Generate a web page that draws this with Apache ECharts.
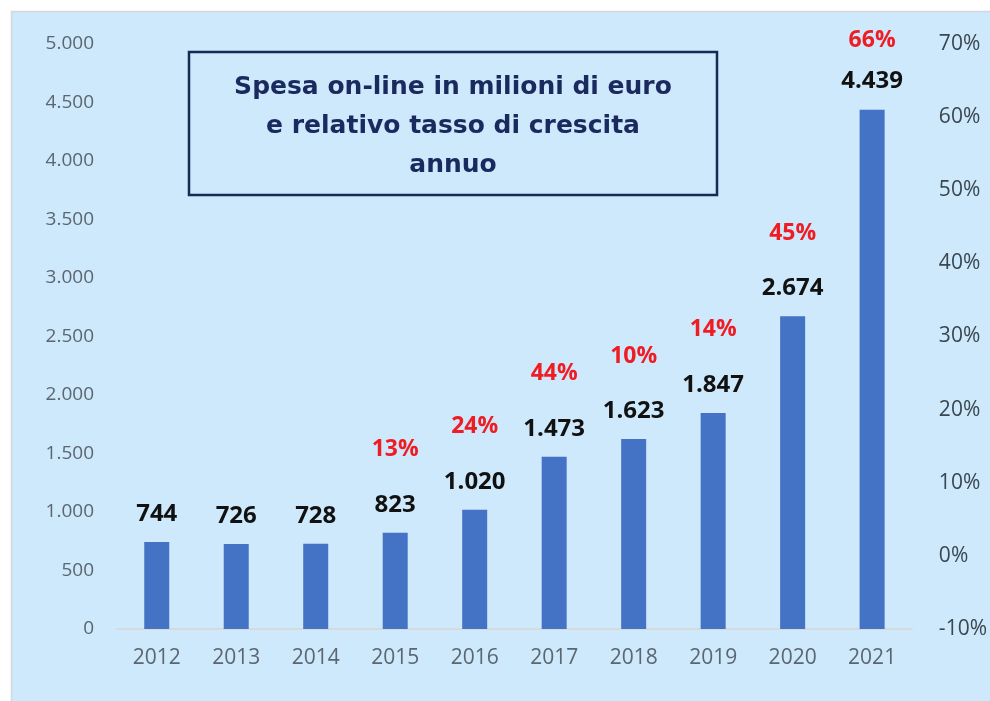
<!DOCTYPE html>
<html>
<head>
<meta charset="utf-8">
<title>Spesa on-line</title>
<script src="https://cdn.jsdelivr.net/npm/echarts@6/dist/echarts.min.js"></script>
<style>
  html, body { margin: 0; padding: 0; background: #ffffff; }
  #chart { width: 990px; height: 701px; }
</style>
</head>
<body>
<div id="chart"></div>
<script>
// Online spending (million euro) and yearly growth rate
const years = ['2012', '2013', '2014', '2015', '2016', '2017', '2018', '2019', '2020', '2021'];
const spend = [744, 726, 728, 823, 1020, 1473, 1623, 1847, 2674, 4439];
const growth = [null, null, null, 13, 24, 44, 10, 14, 45, 66];
const leftTicks = { min: 0, max: 5000, interval: 500 };
const rightTicks = { min: -10, max: 70, interval: 10 };

const FONT = '"Open Sans", "Noto Sans", sans-serif';
const BG = '#cde9fb';

// Italian thousands separator
function fmt(v) {
  return String(v).replace(/\B(?=(\d{3})+(?!\d))/g, '.');
}

const chart = echarts.init(document.getElementById('chart'), null, { renderer: 'canvas' });

const lastIdx = spend.length - 1;
const barData = spend.map(function (v, i) {
  if (i === lastIdx) {
    // tighter spacing between the two labels of the tallest bar
    return { value: v, label: { rich: { g: { lineHeight: 58 } } } };
  }
  return v;
});

chart.setOption({
  backgroundColor: '#ffffff',
  animation: false,
  graphic: [
    {
      type: 'rect',
      z: -10,
      silent: true,
      shape: { x: 11.5, y: 11.5, width: 990, height: 701 },
      style: { fill: BG, stroke: '#d3d8dd', lineWidth: 1.5 }
    },
    {
      type: 'group',
      z: 10,
      children: [
        {
          type: 'rect',
          shape: { x: 189, y: 52, width: 528, height: 143 },
          style: { fill: 'transparent', stroke: '#172a56', lineWidth: 2.5 }
        },
        {
          type: 'text',
          x: 453,
          y: 126,
          style: {
            text: 'Spesa on-line in milioni di euro\ne relativo tasso di crescita\nannuo',
            fill: '#1b2a5e',
            font: 'bold 25px "DejaVu Sans", sans-serif',
            lineHeight: 39,
            align: 'center',
            verticalAlign: 'middle'
          }
        }
      ]
    }
  ],
  grid: { left: 117, right: 70, top: 44, bottom: 72, containLabel: false },
  xAxis: {
    type: 'category',
    data: years,
    axisLine: { lineStyle: { color: '#d6dadd', width: 2 } },
    axisTick: { show: false },
    axisLabel: { color: '#5b6670', fontFamily: FONT, fontSize: 21, margin: 19 }
  },
  yAxis: [
    {
      type: 'value',
      min: leftTicks.min,
      max: leftTicks.max,
      interval: leftTicks.interval,
      splitLine: { show: false },
      axisLine: { show: false },
      axisTick: { show: false },
      axisLabel: {
        color: '#5b6670',
        fontFamily: FONT,
        fontSize: 19,
        margin: 23,
        formatter: function (v) { return fmt(v); }
      }
    },
    {
      type: 'value',
      position: 'right',
      min: rightTicks.min,
      max: rightTicks.max,
      interval: rightTicks.interval,
      splitLine: { show: false },
      axisLine: { show: false },
      axisTick: { show: false },
      axisLabel: {
        color: '#3a4650',
        fontFamily: FONT,
        fontSize: 21,
        margin: 27,
        align: 'left',
        formatter: '{value}%'
      }
    }
  ],
  series: [
    {
      type: 'bar',
      yAxisIndex: 0,
      data: barData,
      barWidth: 25,
      itemStyle: { color: '#4472c4' },
      label: {
        show: true,
        position: 'top',
        distance: 16,
        formatter: function (p) {
          const g = growth[p.dataIndex];
          const v = '{v|' + fmt(p.value) + '}';
          return g == null ? v : '{g|' + g + '%}\n' + v;
        },
        rich: {
          v: { color: '#111111', fontFamily: FONT, fontWeight: 'bold', fontSize: 24, lineHeight: 24, align: 'center' },
          g: { color: '#f01c24', fontFamily: FONT, fontWeight: 'bold', fontSize: 23, lineHeight: 86, align: 'center' }
        }
      }
    }
  ]
});
</script>
</body>
</html>
